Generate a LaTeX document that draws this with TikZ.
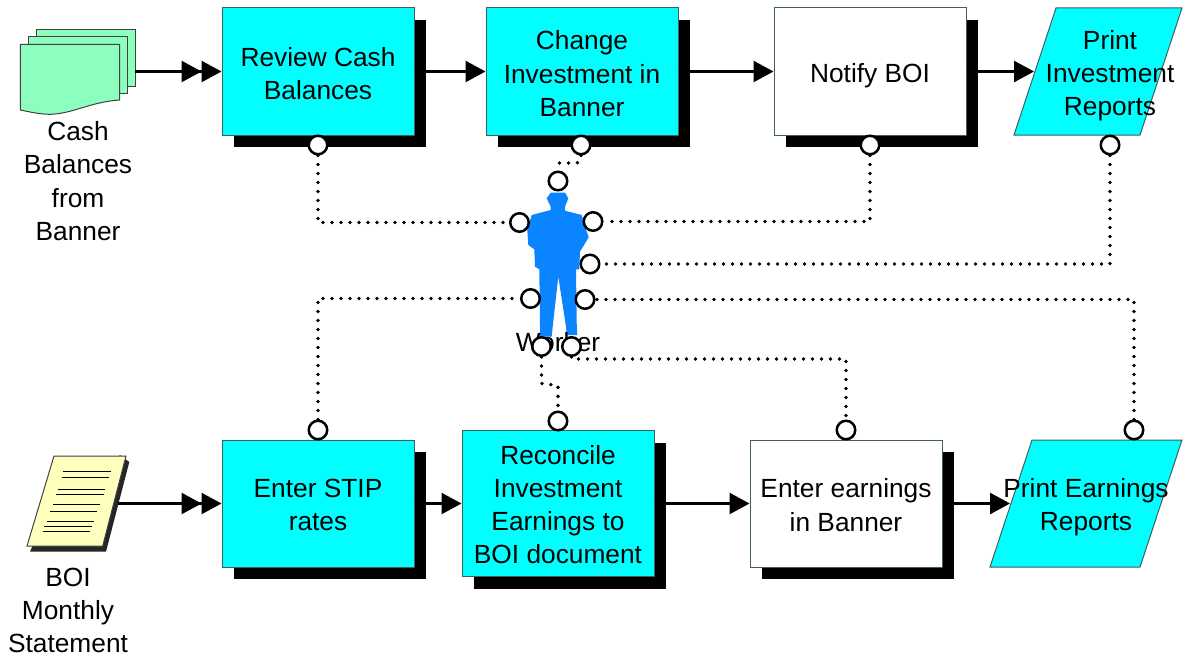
\documentclass[tikz,border=0pt]{standalone}
\usepackage{fontspec}
\setmainfont{Liberation Sans}
\usetikzlibrary{arrows.meta,shadows,calc}
\definecolor{boxcyan}{HTML}{00FFFF}
\definecolor{edgeteal}{HTML}{3F5F60}
\definecolor{sheet}{HTML}{8CFFBE}
\definecolor{paper}{HTML}{FFFFBE}
\definecolor{worker}{HTML}{0A84FF}
\tikzset{
  lbl/.style={font=\fontsize{26.3}{33.2}\selectfont,align=center,text=black,inner sep=0pt},
  boxlbl/.style={lbl,text depth=0pt},
  shad/.style={drop shadow={shadow xshift=12pt,shadow yshift=-12pt,opacity=1,fill=black}},
  procbox/.style={draw=edgeteal,line width=1pt,fill=boxcyan,minimum width=192pt,minimum height=127pt,inner sep=0pt,shad},
  whitebox/.style={procbox,fill=white},
  recbox/.style={procbox,minimum height=146pt},
  para/.style={draw=edgeteal,line width=1pt,fill=boxcyan},
  flow/.style={line width=2.5pt,-{Triangle[length=20pt,width=21pt]}},
  flowtwo/.style={line width=2.5pt,-{Triangle[length=20pt,width=21pt]Triangle[length=20pt,width=21pt,sep=0pt]}},
  dots/.style={line width=3.8pt,line cap=round,dash pattern=on 0pt off 9pt},
  port/.style={circle,draw=black,line width=2.5pt,fill=white,minimum size=18.5pt,inner sep=0pt},
  sheetp/.style={draw=black!75,line width=1pt,fill=sheet},
  rule/.style={line width=1pt,black}
}
\begin{document}
\begin{tikzpicture}[x=1pt,y=-1pt]
\useasboundingbox (0,0) rectangle (1201,658);
% process boxes
\node[procbox] (rev) at (318,71.5) {};
\node[procbox] (chg) at (582,71.5) {};
\node[whitebox] (not) at (870,71.5) {};
\node[procbox] (stip) at (318,503.5) {};
\node[recbox] (rec) at (558,503.5) {};
\node[whitebox] (ear) at (846,503.5) {};
\node[boxlbl,yshift=-2pt] (revt) at (rev) {Review Cash\\Balances};
\node[boxlbl,yshift=-2pt] (chgt) at (chg) {Change\\Investment in\\Banner};
\node[boxlbl,yshift=-1pt] (nott) at (not) {Notify BOI};
\node[boxlbl,yshift=-1.5pt] (stipt) at (stip) {Enter STIP\\rates};
\node[boxlbl,yshift=-1pt] (rect) at (rec) {Reconcile\\Investment\\Earnings to\\BOI document};
\node[boxlbl,yshift=-1.5pt] (eart) at (ear) {Enter earnings\\in Banner};
% parallelograms
\draw[para] (1056,8) -- (1182,8) -- (1140,135) -- (1014,135) -- cycle;
\draw[para] (1032,440) -- (1182,440) -- (1140,567) -- (990,567) -- cycle;
\coordinate (pinv) at (1034,71.5);
\coordinate (pear) at (1010,503.5);
% cash sheets
\draw[sheetp] (36,30) -- (135.7,30) -- (135.7,86.5) -- (36,86.5) -- cycle;
\draw[sheetp] (28.3,36.7) -- (127.7,36.7) -- (127.7,93.7) -- (28.3,93.7) -- cycle;
\draw[sheetp] (20.3,44.3) -- (119.7,44.3) -- (119.7,100)
  .. controls (90,102) and (72,114) .. (50,114.3)
  .. controls (40,114.3) and (30,112) .. (20.3,110) -- cycle;
\coordinate (cash) at (135,71.5);
% BOI document
\fill[black!85] (129.3,462) -- (106,551.7) -- (30,551.7) -- (33,545) -- (120,455) -- cycle;
\draw[draw=black!75,line width=1pt,fill=paper] (54,456) -- (126,456) -- (102.7,546) -- (27,546) -- cycle;
\foreach \xa/\xb/\yy in {63/111/471,62/109/477,58/105/489.3,56/104/494.3,53/100/504.3,50/97/511,47/94/521,44/92/526,43/90/531.3}
  \draw[rule] (\xa,\yy) -- (\xb,\yy);
\coordinate (boi) at (118,503.5);
% document captions
\node[lbl] (cashl) at (78,181) {Cash\\Balances\\from\\Banner};
\node[lbl] (boil) at (68,610.5) {BOI\\Monthly\\Statement};
% flows
\draw[flowtwo] (cash) -- (rev.west);
\draw[flow] (rev.east) -- (chg.west);
\draw[flow] (chg.east) -- (not.west);
\draw[flow] (not.east) -- (pinv);
\draw[flowtwo] (boi) -- (stip.west);
\draw[flow] (stip.east) -- (rec.west);
\draw[flow] (rec.east) -- (ear.west);
\draw[flow] (ear.east) -- (pear);
% parallelogram text
\node[lbl] (pinvt) at (1110,76) {Print\\Investment\\Reports};
\node[lbl] (peart) at (1086,507.5) {Print Earnings\\Reports};
% worker figure
\fill[worker] (550.7,192.7) -- (565,192.7) -- (568.3,198.3) -- (565,206.7) -- (565,210.7) -- (581.7,215) -- (585,226.7) -- (588.7,237.3) -- (580,251.7) -- (579.3,269.3) -- (576,269.3) -- (576.7,323.3) -- (577.3,335) -- (566.7,335) -- (566,326.7) -- (558.3,276.7) -- (552.7,326.7) -- (551.7,336.7) -- (540,336.7) -- (540,326.7) -- (539.3,269.3) -- (535,266.7) -- (534.3,249.3) -- (528.3,245) -- (527.3,230) -- (531.7,215) -- (550.7,210) -- (550.7,206.7) -- (546.7,198.3) -- cycle;
\node[lbl] (wl) at (558,342) {Worker};
% connection ports
\node[port] (p1) at (318,145) {};
\node[port] (p2) at (581,145) {};
\node[port] (p3) at (870,145) {};
\node[port] (p4) at (1110,145) {};
\node[port] (p5) at (318,430) {};
\node[port] (p6) at (558,421) {};
\node[port] (p7) at (846,430) {};
\node[port] (p8) at (1134,430) {};
\node[port] (w2) at (558,181) {};
\node[port] (w1) at (519.5,222.5) {};
\node[port] (w3) at (593,221.5) {};
\node[port] (w4) at (590,264) {};
\node[port] (w5) at (530.5,298.5) {};
\node[port] (w6) at (585,299.5) {};
\node[port] (w7) at (541.5,346.5) {};
\node[port] (w8) at (571.5,346.5) {};
% dotted links
\draw[dots] (p1) |- (w1);
\draw[dots] (p2) -- ++(0,15) -- ++(-4,3) -- ++(-19,0) -- (w2);
\draw[dots] (p3) |- (w3);
\draw[dots] (p4) |- (w4);
\draw[dots] (p5) |- (w5);
\draw[dots] (p8) |- (w6);
\draw[dots] (w8) -- ++(0,12.5) -| (p7);
\draw[dots] (w7) -- ++(0,37) -- ++(16.5,2) -- (p6);
\end{tikzpicture}
\end{document}
